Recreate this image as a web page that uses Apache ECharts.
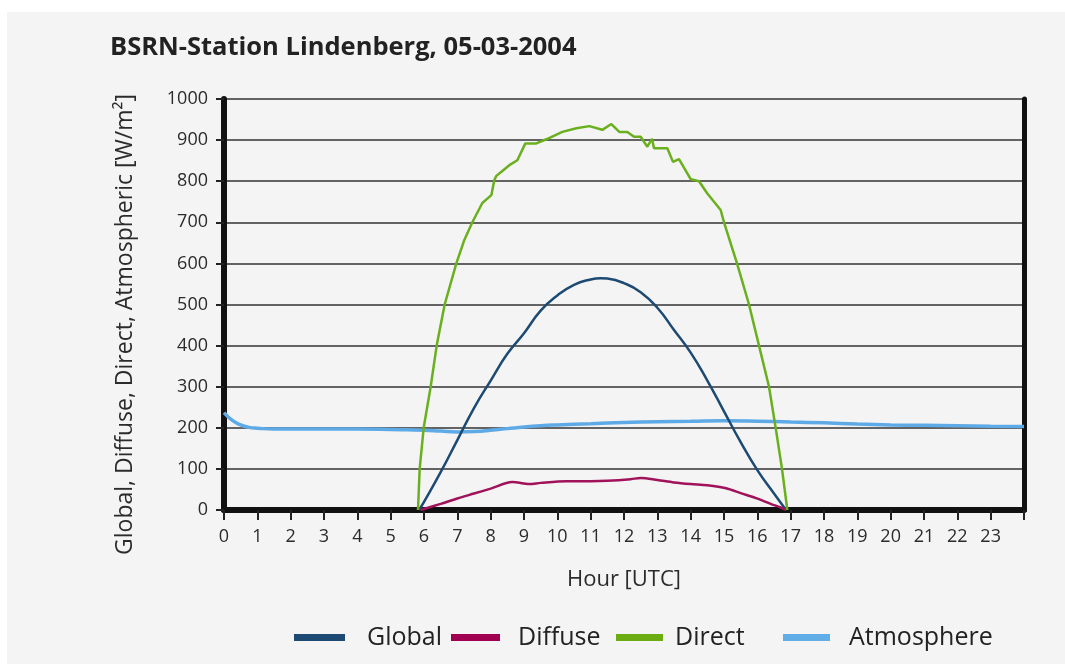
<!DOCTYPE html>
<html>
<head>
<meta charset="utf-8">
<script src="https://cdn.jsdelivr.net/npm/echarts@6/dist/echarts.min.js"></script>
<style>
  html, body { margin: 0; padding: 0; background: #ffffff; }
  #chart { width: 1065px; height: 664px; }
</style>
</head>
<body>
<div id="chart"></div>
<script>
// BSRN Lindenberg radiation components, 05-03-2004 (hour UTC, W/m²)
const hourTicks = ['0','1','2','3','4','5','6','7','8','9','10','11','12','13','14','15','16','17','18','19','20','21','22','23'];

const globalHours  = [5.85, 6.0, 6.5, 7.0, 7.5, 8.0, 8.5, 9.0, 9.5, 10.0, 10.5, 11.0, 11.3, 11.5, 12.0, 12.5, 13.0, 13.5, 14.0, 14.5, 15.0, 15.5, 16.0, 16.5, 16.86];
const globalValues = [0, 20, 92, 170, 248, 315, 380, 430, 485, 522, 548, 561, 564, 563, 552, 530, 492, 438, 383, 315, 240, 165, 97, 40, 0];

const diffuseHours  = [5.9, 6.5, 7.0, 7.5, 8.0, 8.65, 9.16, 9.5, 10.27, 11.0, 11.5, 12.2, 12.5, 13.0, 13.5, 14.0, 14.5, 15.06, 15.5, 15.96, 16.4, 16.7, 16.86];
const diffuseValues = [0, 15, 28, 40, 52, 68, 63, 66, 70, 70, 71, 75, 78, 73, 67, 63, 60, 53, 41, 29, 15, 6, 0];

const directHours  = [5.82, 5.87, 5.99, 6.2, 6.38, 6.62, 6.97, 7.2, 7.45, 7.75, 8.02, 8.11, 8.17, 8.35, 8.56, 8.8, 9.04, 9.37, 9.67, 10.15, 10.57, 10.96, 11.35, 11.62, 11.86, 12.1, 12.3, 12.5, 12.7, 12.84, 12.9, 13.3, 13.47, 13.65, 14.0, 14.25, 14.5, 14.9, 15.0, 15.39, 15.75, 16.05, 16.35, 16.55, 16.74, 16.9];
const directValues = [0, 100, 200, 300, 400, 500, 600, 655, 700, 747, 766, 803, 813, 825, 839, 851, 892, 892, 902, 920, 929, 934, 925, 939, 920, 920, 908, 908, 884, 903, 880, 880, 847, 854, 805, 800, 770, 730, 700, 600, 500, 400, 300, 200, 100, 0];

const atmosHours  = [0, 0.25, 0.5, 0.75, 1.0, 1.5, 2, 3, 4, 5, 5.5, 6, 6.5, 7, 7.5, 8, 8.5, 9, 9.5, 10, 11, 12, 13, 14, 15, 16, 17, 18, 19, 20, 21, 22, 23, 24];
const atmosValues = [237, 218, 207, 201, 199, 197, 197, 197, 197, 196, 195, 194, 192, 190, 191, 194, 198, 202, 205, 207, 210, 213, 215, 216, 217, 216, 214, 212, 209, 207, 206, 205, 204, 203];

const zip = (xs, ys) => xs.map((x, i) => [x, ys[i]]);

const FONT = 'Open Sans';
const TEXT = '#2b2b2b';

const chart = echarts.init(document.getElementById('chart'), null, { renderer: 'canvas' });

// one legend block per series, each with its own swatch width and text gap
function legendItem(name, left, swatch, gap) {
  return {
    top: 625,
    left: left,
    padding: 0,
    icon: 'rect',
    itemWidth: swatch,
    itemHeight: 7,
    selectedMode: false,
    data: [name],
    textStyle: { fontFamily: FONT, fontSize: 25, color: '#222222', padding: [0, 0, 0, gap] }
  };
}

chart.setOption({
  animation: false,
  backgroundColor: '#ffffff',
  graphic: [{
    type: 'rect',
    z: -10,
    silent: true,
    shape: { x: 7, y: 12, width: 1058, height: 652 },
    style: { fill: '#f4f4f4' }
  }],
  title: {
    text: 'BSRN-Station Lindenberg, 05-03-2004',
    left: 105,
    top: 30,
    textStyle: { fontFamily: FONT, fontSize: 25.5, fontWeight: 'bold', color: '#222222' }
  },
  legend: [
    legendItem('Global', 294, 51, 17),
    legendItem('Diffuse', 451, 49, 13),
    legendItem('Direct', 616, 47, 7),
    legendItem('Atmosphere', 783, 47, 14)
  ],
  grid: { left: 224, right: 41, top: 99, bottom: 154 },
  xAxis: {
    type: 'value',
    min: 0,
    max: 24,
    interval: 1,
    name: 'Hour [UTC]',
    nameLocation: 'middle',
    nameGap: 59,
    nameTextStyle: { fontFamily: FONT, fontSize: 22, color: TEXT },
    axisLine: { show: true, onZero: false, lineStyle: { color: '#111111', width: 6 } },
    axisTick: { show: true, length: 10, lineStyle: { color: '#222222', width: 2 } },
    axisLabel: {
      fontFamily: FONT, fontSize: 18, color: TEXT, margin: 18,
      formatter: v => (v < hourTicks.length ? hourTicks[v] : '')
    },
    splitLine: { show: false }
  },
  yAxis: [{
    type: 'value',
    min: 0,
    max: 1000,
    interval: 100,
    name: 'Global, Diffuse, Direct, Atmospheric [W/m²]',
    nameLocation: 'middle',
    nameRotate: 90,
    nameGap: 87,
    nameTextStyle: { fontFamily: FONT, fontSize: 23, color: TEXT, padding: [0, 40, 0, 0] },
    axisLine: { show: true, lineStyle: { color: '#111111', width: 6 } },
    axisTick: { show: true, length: 8, lineStyle: { color: '#222222', width: 2 } },
    axisLabel: { fontFamily: FONT, fontSize: 18, color: TEXT, margin: 16, formatter: v => String(v) },
    splitLine: { show: true, lineStyle: { color: '#333333', width: 1.5 } }
  }, {
    type: 'value',
    position: 'right',
    min: 0,
    max: 1000,
    interval: 100,
    axisLine: { show: true, lineStyle: { color: '#111111', width: 5 } },
    axisTick: { show: false },
    axisLabel: { show: false },
    splitLine: { show: false }
  }],
  series: [
    {
      name: 'Global', type: 'line', showSymbol: false, smooth: true,
      data: zip(globalHours, globalValues),
      lineStyle: { color: '#1d4a72', width: 2.5 },
      itemStyle: { color: '#1d4a72' }, z: 4
    },
    {
      name: 'Diffuse', type: 'line', showSymbol: false, smooth: 0.3,
      data: zip(diffuseHours, diffuseValues),
      lineStyle: { color: '#a0125a', width: 2.5 },
      itemStyle: { color: '#a0004f' }, z: 4
    },
    {
      name: 'Direct', type: 'line', showSymbol: false,
      data: zip(directHours, directValues),
      lineStyle: { color: '#6ab01e', width: 2.5 },
      itemStyle: { color: '#6aac12' }, z: 4
    },
    {
      name: 'Atmosphere', type: 'line', showSymbol: false, smooth: true,
      data: zip(atmosHours, atmosValues),
      lineStyle: { color: '#5eaae6', width: 3.5 },
      itemStyle: { color: '#60ade8' }, z: 3
    }
  ]
});
</script>
</body>
</html>
